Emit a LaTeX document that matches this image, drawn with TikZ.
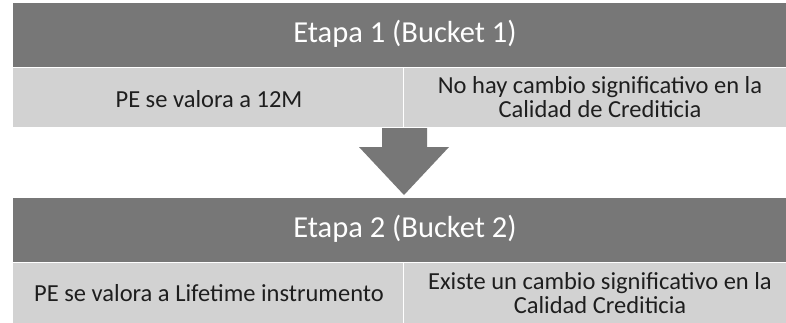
\documentclass[tikz,border=0pt]{standalone}
\usepackage{fontspec}
\setmainfont{Carlito}
\definecolor{darkbar}{HTML}{777777}
\definecolor{lightbar}{HTML}{D2D2D2}
\definecolor{bodytext}{HTML}{1E1E1E}
\begin{document}
\begin{tikzpicture}[x=1pt,y=-1pt,
  hdr/.style={fill=darkbar,draw=white,line width=0.8pt},
  cell/.style={fill=lightbar,draw=white,line width=0.8pt},
  hdrtext/.style={text=white,font=\fontsize{30.5}{34}\selectfont},
  celltext/.style={text=bodytext,font=\fontsize{24.5}{24.5}\selectfont,align=center}]
\useasboundingbox (0,0) rectangle (786,322);
\fill[white] (0,0) rectangle (786,322);
% Stage 1
\path[hdr] (12,2) rectangle (790,67);
\path[cell] (12,67) rectangle (403,127);
\path[cell] (403,67) rectangle (790,127);
\node[hdrtext] (h1) at (405,34) {Etapa 1 (Bucket 1)};
\node[celltext] (c1a) at (209,99) {PE se valora a 12M};
\node[celltext] (c1b) at (600,97) {No hay cambio significativo en la\\Calidad de Crediticia};
% Arrow
\fill[darkbar] (382,128) -- (427,128) -- (427,147) -- (449,147) -- (404,195) -- (359,147) -- (382,147) -- cycle;
% Stage 2
\path[hdr] (12,197) rectangle (790,262);
\path[cell] (12,262) rectangle (403,324);
\path[cell] (403,262) rectangle (790,324);
\node[hdrtext] (h2) at (405,229) {Etapa 2 (Bucket 2)};
\node[celltext] (c2a) at (209,293) {PE se valora a Lifetime instrumento};
\node[celltext] (c2b) at (600,293) {Existe un cambio significativo en la\\Calidad Crediticia};
\end{tikzpicture}
\end{document}
